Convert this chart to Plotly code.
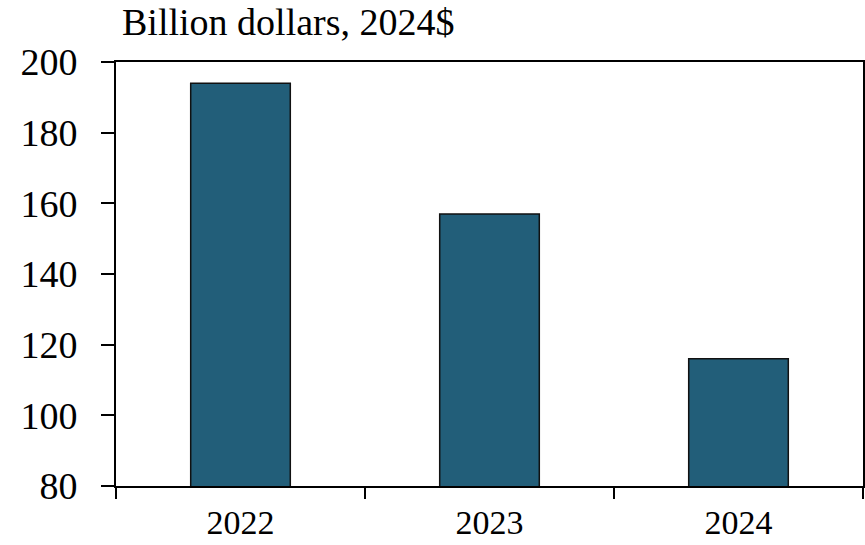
import plotly.graph_objects as go

years = ["2022", "2023", "2024"]
values = [194, 157, 116]
y_ticks = [80, 100, 120, 140, 160, 180, 200]

FONT = "Liberation Serif"
BAR = "#225E79"

fig = go.Figure(go.Bar(
    x=years, y=values, width=0.4,
    marker=dict(color=BAR, line=dict(color="#111111", width=1.5)),
))

fig.update_layout(
    width=865, height=545,
    margin=dict(l=116, r=2, t=62, b=59),
    paper_bgcolor="white", plot_bgcolor="white",
    showlegend=False,
    font=dict(family=FONT, size=34, color="black"),
    annotations=[dict(
        text="Billion dollars, 2024$", xref="paper", yref="paper",
        x=0.006, y=1.094, xanchor="left", yanchor="middle",
        showarrow=False, font=dict(family=FONT, size=38, color="black"),
    )],
)
fig.update_xaxes(
    type="category", tickson="boundaries", ticks="outside", ticklen=11,
    tickwidth=1.5, tickcolor="black", ticklabelstandoff=5, automargin=False,
    showline=True, linecolor="black", linewidth=2, mirror=True,
    showgrid=False, tickfont=dict(family=FONT, size=34),
)
fig.update_yaxes(
    range=[80, 200], tickvals=y_ticks, ticks="outside", ticklen=13,
    tickwidth=1.5, tickcolor="black", ticklabelstandoff=16, automargin=False,
    showline=True, linecolor="black", linewidth=2, mirror=True,
    showgrid=False, zeroline=False, tickfont=dict(family=FONT, size=38),
)

fig.write_html("out.html")
